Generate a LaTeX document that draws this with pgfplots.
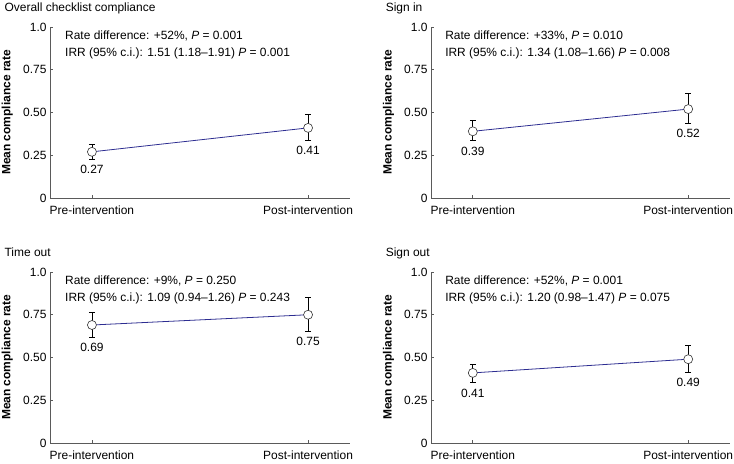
\documentclass[border=0pt]{standalone}
\usepackage{fontspec}
\setmainfont{Liberation Sans}
\usepackage{pgfplots}
\pgfplotsset{compat=1.18}
\definecolor{navy}{RGB}{45,45,145}
\definecolor{axgray}{RGB}{90,90,90}

\pgfplotsset{
  panel/.style={
    scale only axis, width=300bp, height=171bp,
    xmin=-0.194, xmax=1.194, ymin=0, ymax=1,
    axis lines*=left,
    axis line style={axgray, line width=0.6pt},
    tick align=inside, major tick length=3bp,
    tick style={axgray, line width=0.6pt},
    xtick={0,1}, xticklabels={Pre-intervention, Post-intervention},
    ytick={0,0.25,0.5,0.75,1}, yticklabels={0,0.25,0.50,0.75,1.0},
    /pgf/number format/assume math mode=true,
    tick label style={font=\fontsize{12}{14}\selectfont},
    x tick label style={yshift=-4bp},
    ylabel={\bfseries Mean compliance rate},
    ylabel style={at={(axis description cs:-0.142,0.5)}, anchor=center, font=\fontsize{12}{14}\selectfont},
    title style={at={(axis description cs:-0.163,1.053)}, anchor=base west, font=\fontsize{12}{14}\selectfont},
  },
  meanline/.style={navy, line width=0.8pt, mark=none,
    error bars/.cd, y dir=both, y explicit, error mark=-,
    error bar style={draw=black, line width=0.6pt, solid},
    error mark options={rotate=90, draw=black, line width=0.6pt, mark size=3bp}},
  dots/.style={forget plot, only marks, mark=*, mark size=4.5bp,
    mark options={draw=black!80, fill=white, line width=0.6pt}},
}
\tikzset{
  vlab/.style={anchor=north, inner sep=2bp, yshift=-4bp, font=\fontsize{12}{14}\selectfont},
  note/.style={anchor=base west, inner sep=0pt, font=\fontsize{12}{14}\selectfont},
}

\begin{document}
\begin{tikzpicture}
\path[use as bounding box] (0,0) rectangle (734bp,464bp);

% Overall checklist compliance
\begin{axis}[panel, at={(50bp,266bp)}, anchor=south west, title={Overall checklist compliance}]
\addplot[meanline] table[y error plus=ep, y error minus=em] {
x y ep em
0 0.27 0.046 0.044
1 0.41 0.079 0.071
};
\addplot[dots] coordinates {(0,0.27) (1,0.41)};
\node[vlab] at (axis cs:0,0.226) {0.27};
\node[vlab] at (axis cs:1,0.339) {0.41};
\node[note] at (axis description cs:0.05,0.926) {Rate difference: +52\%, \textit{P} = 0.001};
\node[note] at (axis description cs:0.05,0.827) {IRR (95\% c.i.): 1.51 (1.18--1.91) \textit{P} = 0.001};
\end{axis}

% Sign in
\begin{axis}[panel, width=299bp, at={(431bp,266bp)}, anchor=south west, title={Sign in}]
\addplot[meanline] table[y error plus=ep, y error minus=em] {
x y ep em
0 0.39 0.062 0.055
1 0.52 0.090 0.083
};
\addplot[dots] coordinates {(0,0.39) (1,0.52)};
\node[vlab] at (axis cs:0,0.335) {0.39};
\node[vlab] at (axis cs:1,0.437) {0.52};
\node[note] at (axis description cs:0.047,0.926) {Rate difference: +33\%, \textit{P} = 0.010};
\node[note] at (axis description cs:0.047,0.827) {IRR (95\% c.i.): 1.34 (1.08--1.66) \textit{P} = 0.008};
\end{axis}

% Time out
\begin{axis}[panel, at={(50bp,21bp)}, anchor=south west, title={Time out}]
\addplot[meanline] table[y error plus=ep, y error minus=em] {
x y ep em
0 0.69 0.075 0.070
1 0.75 0.100 0.095
};
\addplot[dots] coordinates {(0,0.69) (1,0.75)};
\node[vlab] at (axis cs:0,0.62) {0.69};
\node[vlab] at (axis cs:1,0.655) {0.75};
\node[note] at (axis description cs:0.05,0.926) {Rate difference: +9\%, \textit{P} = 0.250};
\node[note] at (axis description cs:0.05,0.827) {IRR (95\% c.i.): 1.09 (0.94--1.26) \textit{P} = 0.243};
\end{axis}

% Sign out
\begin{axis}[panel, width=299bp, at={(431bp,21bp)}, anchor=south west, title={Sign out}]
\addplot[meanline] table[y error plus=ep, y error minus=em] {
x y ep em
0 0.41 0.053 0.057
1 0.49 0.079 0.076
};
\addplot[dots] coordinates {(0,0.41) (1,0.49)};
\node[vlab] at (axis cs:0,0.353) {0.41};
\node[vlab] at (axis cs:1,0.414) {0.49};
\node[note] at (axis description cs:0.047,0.926) {Rate difference: +52\%, \textit{P} = 0.001};
\node[note] at (axis description cs:0.047,0.827) {IRR (95\% c.i.): 1.20 (0.98--1.47) \textit{P} = 0.075};
\end{axis}
\end{tikzpicture}
\end{document}
